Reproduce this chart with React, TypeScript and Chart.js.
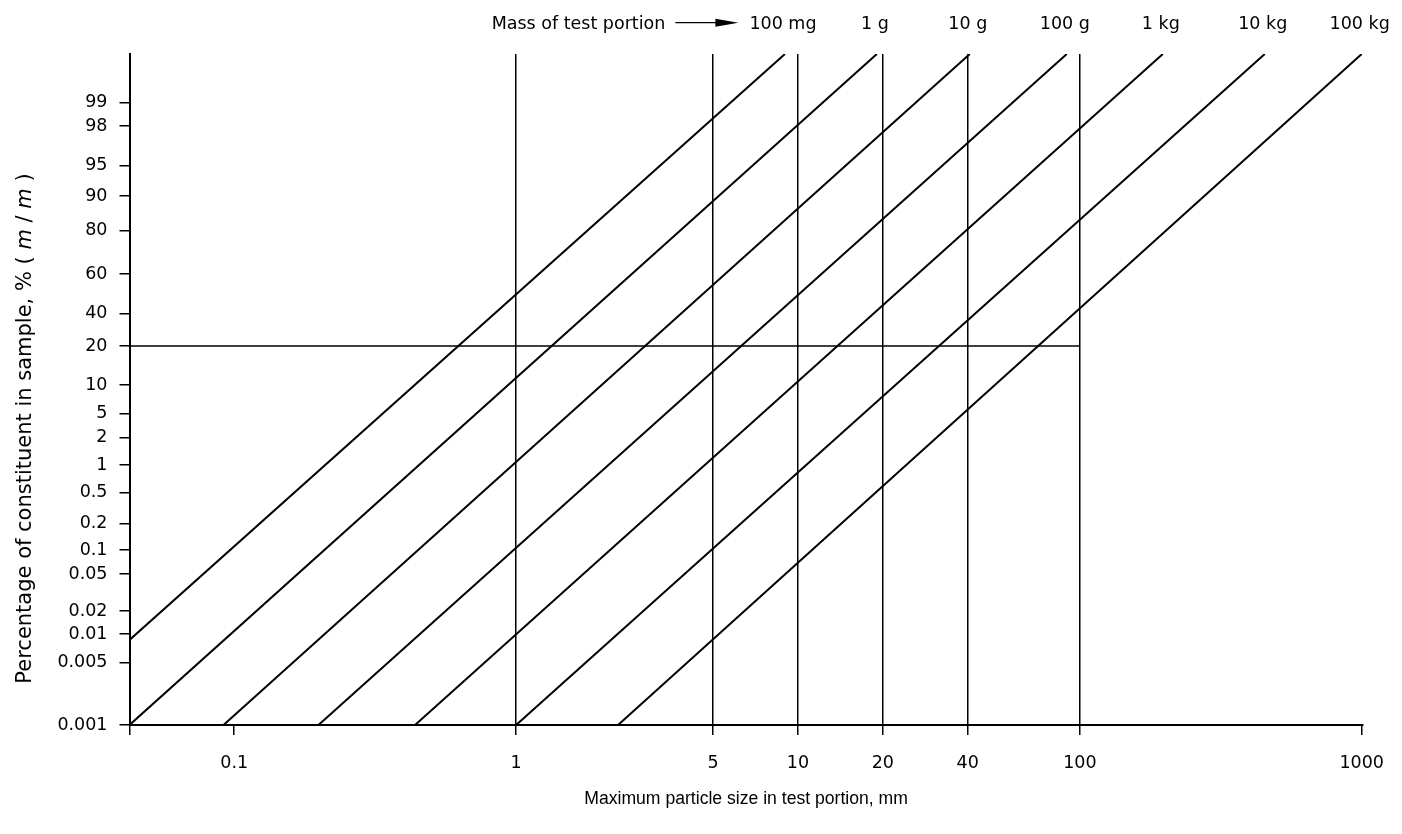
import React, { useEffect, useRef } from 'react';
import { Chart, registerables } from 'chart.js';

Chart.register(...registerables);

// ---- X axis: maximum particle size in test portion (mm), logarithmic ----
const xMin = 0.0425;
const xMax = 1008;
const xTickValues = [0.0425, 0.1, 1, 5, 10, 20, 40, 100, 1000];
const xTickLabels = ['', '0.1', '1', '5', '10', '20', '40', '100', '1000'];
const xGridValues = [1, 5, 10, 20, 40, 100];

// ---- Y axis: percentage of constituent (non-linear nomogram scale, in scale units) ----
const yTickLabels = ['0.001', '0.005', '0.01', '0.02', '0.05', '0.1', '0.2', '0.5', '1', '2', '5', '10', '20', '40', '60', '80', '90', '95', '98', '99'];
const yTickPos = [0, 0.7, 1.016, 1.272, 1.685, 1.953, 2.251, 2.597, 2.902, 3.211, 3.479, 3.795, 4.23, 4.595, 5.033, 5.517, 5.904, 6.242, 6.685, 6.945];
const yMin = 0;
const yMax = 7.489;

// ---- Mass-of-test-portion lines ----
const massLabels = ['100 mg', '1 g', '10 g', '100 g', '1 kg', '10 kg', '100 kg'];
const lineStartX = [0.0425, 0.0425, 0.0916, 0.199, 0.438, 1.0, 2.3];
const lineStartY = [0.949, 0, 0, 0, 0, 0, 0];
const lineEndX = [8.99, 19.05, 40.7, 89.9, 197, 453, 1000];
const lineEndY = [7.489, 7.489, 7.489, 7.489, 7.489, 7.489, 7.489];

// ---- Worked-example reference line at 20 % ----
const refLineX = [0.0425, 100];
const refLineY = [4.23, 4.23];

const caption = 'Mass of test portion';
const xTitle = 'Maximum particle size in test portion, mm';
const yTitleParts: [string, boolean][] = [
  ['Percentage of constituent in sample, % ( ', false],
  ['m', true],
  [' / ', false],
  ['m', true],
  [' )', false],
];

const FONT = '"DejaVu Sans", "Liberation Sans", Arial, sans-serif';
const FONT2 = '"Liberation Sans", Arial, sans-serif';

const textPlugin = {
  id: 'nomogramText',
  afterDraw(chart: any) {
    const { ctx, chartArea, scales } = chart;
    const xs = scales.x;
    ctx.save();
    ctx.fillStyle = '#000';
    ctx.strokeStyle = '#000';
    ctx.font = `17.5px ${FONT}`;
    ctx.textBaseline = 'alphabetic';
    ctx.textAlign = 'center';
    const baseY = 29;
    massLabels.forEach((lab, i) => {
      ctx.fillText(lab, xs.getPixelForValue(lineEndX[i]) - 2, baseY);
    });
    // caption with arrow
    const firstX = xs.getPixelForValue(lineEndX[0]) - 2;
    const firstW = ctx.measureText(massLabels[0]).width;
    const arrowEnd = firstX - firstW / 2 - 11;
    const arrowStart = arrowEnd - 63;
    const ay = 22.7;
    ctx.lineWidth = 1.2;
    ctx.beginPath();
    ctx.moveTo(arrowStart, ay);
    ctx.lineTo(arrowEnd - 18, ay);
    ctx.stroke();
    ctx.beginPath();
    ctx.moveTo(arrowEnd, ay);
    ctx.lineTo(arrowEnd - 23, ay - 4);
    ctx.lineTo(arrowEnd - 23, ay + 4);
    ctx.closePath();
    ctx.fill();
    ctx.textAlign = 'right';
    ctx.fillText(caption, arrowStart - 10, baseY);

    // x title
    ctx.font = `17.6px ${FONT2}`;
    ctx.textAlign = 'center';
    ctx.textBaseline = 'alphabetic';
    ctx.fillText(xTitle, (chartArea.left + chartArea.right) / 2, 804);

    // y title (rotated, with italic m)
    ctx.translate(31, 428.5);
    ctx.rotate(-Math.PI / 2);
    ctx.textAlign = 'left';
    ctx.textBaseline = 'alphabetic';
    const fontN = `21px ${FONT}`;
    const fontI = `italic 21px ${FONT}`;
    let total = 0;
    const widths = yTitleParts.map(([t, it]) => {
      ctx.font = it ? fontI : fontN;
      const w = ctx.measureText(t).width;
      total += w;
      return w;
    });
    let cx = -total / 2;
    yTitleParts.forEach(([t, it], i) => {
      ctx.font = it ? fontI : fontN;
      ctx.fillText(t, cx, 0);
      cx += widths[i];
    });
    ctx.restore();
  },
};

export default function App() {
  const ref = useRef<HTMLCanvasElement | null>(null);

  useEffect(() => {
    document.body.style.margin = '0';
    document.body.style.overflow = 'hidden';
    const canvas = ref.current;
    if (!canvas) return;

    const datasets: any[] = massLabels.map((lab, i) => ({
      label: lab,
      data: [
        { x: lineStartX[i], y: lineStartY[i] },
        { x: lineEndX[i], y: lineEndY[i] },
      ],
      showLine: true,
      borderColor: '#000',
      borderWidth: 2,
      pointRadius: 0,
      fill: false,
    }));
    datasets.push({
      label: '20 %',
      data: [
        { x: refLineX[0], y: refLineY[0] },
        { x: refLineX[1], y: refLineY[1] },
      ],
      showLine: true,
      borderColor: '#000',
      borderWidth: 1.3,
      pointRadius: 0,
      fill: false,
    });

    const chart = new Chart(canvas, {
      type: 'scatter',
      data: { datasets },
      options: {
        animation: false,
        responsive: false,
        maintainAspectRatio: false,
        layout: { padding: { top: 54, right: 39, left: 0, bottom: 0 } },
        plugins: {
          legend: { display: false },
          tooltip: { enabled: false },
          title: { display: false },
        },
        scales: {
          x: {
            type: 'logarithmic',
            min: xMin,
            max: xMax,
            afterBuildTicks: (scale: any) => {
              scale.ticks = xTickValues.map((v) => ({ value: v }));
            },
            afterFit: (scale: any) => {
              scale.height = 109;
            },
            ticks: {
              autoSkip: false,
              maxRotation: 0,
              minRotation: 0,
              padding: 18,
              color: '#000',
              font: { family: FONT, size: 17.5 },
              callback: (_v: any, i: number) => xTickLabels[i],
            },
            grid: {
              drawOnChartArea: true,
              color: (c: any) =>
                c.tick && xGridValues.includes(c.tick.value) ? '#000' : 'rgba(0,0,0,0)',
              lineWidth: 1.5,
              tickColor: '#000',
              tickLength: 10,
              tickWidth: 1.5,
            },
            border: { display: true, color: '#000', width: 2 },
          },
          y: {
            type: 'linear',
            min: yMin,
            max: yMax,
            afterBuildTicks: (scale: any) => {
              scale.ticks = yTickPos.map((v) => ({ value: v }));
            },
            afterFit: (scale: any) => {
              scale.width = 129.5;
            },
            ticks: {
              autoSkip: false,
              padding: 12,
              color: '#000',
              font: { family: FONT, size: 17.5 },
              callback: (_v: any, i: number) => yTickLabels[i],
            },
            grid: {
              drawOnChartArea: false,
              color: '#000',
              tickColor: '#000',
              tickLength: 10,
              tickWidth: 1.5,
              lineWidth: 1.5,
            },
            border: { display: true, color: '#000', width: 2 },
          },
        },
      },
      plugins: [textPlugin],
    });

    return () => chart.destroy();
  }, []);

  return (
    <div style={{ width: 1402, height: 834, background: '#fff' }}>
      <canvas ref={ref} width={1402} height={834} style={{ display: 'block' }} />
    </div>
  );
}
